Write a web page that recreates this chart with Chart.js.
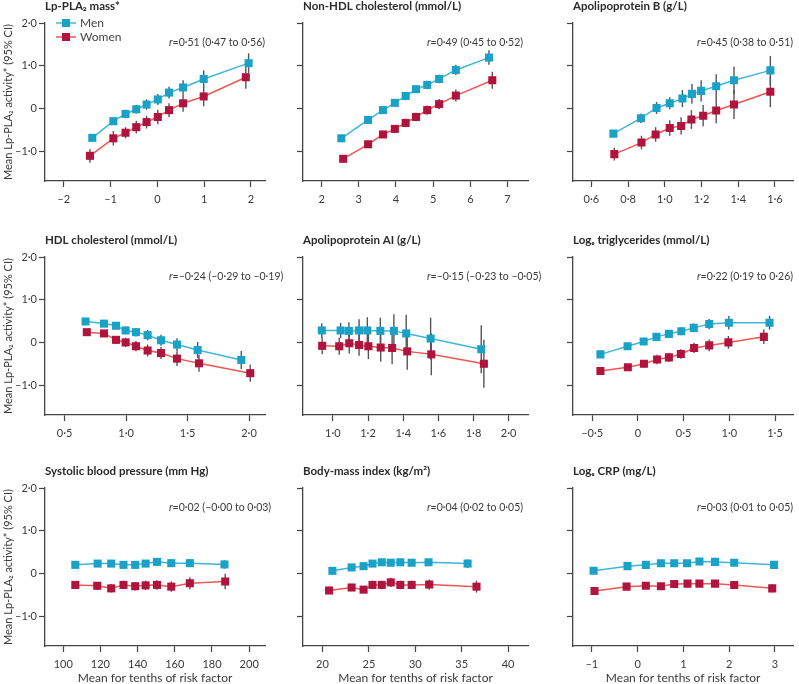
<!DOCTYPE html>
<html>
<head>
<meta charset="utf-8">
<script src="https://cdn.jsdelivr.net/npm/chart.js@4.4.1/dist/chart.umd.min.js"></script>
<style>
  html, body { margin: 0; padding: 0; background: #fff; width: 799px; height: 684px; overflow: hidden; }
  canvas { position: absolute; }
</style>
</head>
<body>
<script>
// Lp-PLA2 mass
const massMenX = [-1.39, -0.94, -0.68, -0.45, -0.23, 0.01, 0.25, 0.55, 0.99, 1.95];
const massMenY = [-0.69, -0.30, -0.13, -0.02, 0.09, 0.21, 0.37, 0.49, 0.69, 1.06];
const massMenCI = [0.08, 0.09, 0.10, 0.10, 0.12, 0.13, 0.14, 0.17, 0.20, 0.23];
const massWomenX = [-1.44, -0.94, -0.68, -0.45, -0.23, 0.01, 0.25, 0.55, 0.99, 1.89];
const massWomenY = [-1.11, -0.70, -0.57, -0.44, -0.32, -0.20, -0.04, 0.12, 0.28, 0.73];
const massWomenCI = [0.16, 0.17, 0.13, 0.15, 0.15, 0.17, 0.16, 0.20, 0.23, 0.27];

// Non-HDL cholesterol
const nonHdlMenX = [2.53, 3.25, 3.65, 3.97, 4.26, 4.54, 4.84, 5.16, 5.61, 6.50];
const nonHdlMenY = [-0.70, -0.27, -0.04, 0.13, 0.29, 0.45, 0.55, 0.69, 0.90, 1.19];
const nonHdlMenCI = [0.06, 0.07, 0.07, 0.08, 0.08, 0.09, 0.10, 0.10, 0.12, 0.17];
const nonHdlWomenX = [2.58, 3.25, 3.65, 3.97, 4.26, 4.54, 4.84, 5.16, 5.61, 6.59];
const nonHdlWomenY = [-1.18, -0.84, -0.61, -0.48, -0.34, -0.20, -0.04, 0.10, 0.30, 0.66];
const nonHdlWomenCI = [0.07, 0.08, 0.08, 0.09, 0.10, 0.10, 0.11, 0.12, 0.14, 0.20];

// Apolipoprotein B
const apoBMenX = [0.72, 0.87, 0.955, 1.027, 1.096, 1.148, 1.198, 1.28, 1.377, 1.575];
const apoBMenY = [-0.59, -0.23, 0.01, 0.12, 0.23, 0.34, 0.41, 0.52, 0.66, 0.89];
const apoBMenCI = [0.06, 0.11, 0.14, 0.14, 0.20, 0.23, 0.25, 0.28, 0.32, 0.34];
const apoBWomenX = [0.725, 0.873, 0.95, 1.027, 1.089, 1.145, 1.209, 1.28, 1.377, 1.575];
const apoBWomenY = [-1.07, -0.80, -0.61, -0.46, -0.41, -0.26, -0.17, -0.05, 0.09, 0.39];
const apoBWomenCI = [0.15, 0.16, 0.17, 0.18, 0.20, 0.22, 0.25, 0.30, 0.34, 0.36];

// HDL cholesterol
const hdlMenX = [0.67, 0.82, 0.918, 0.996, 1.08, 1.175, 1.284, 1.414, 1.582, 1.937];
const hdlMenY = [0.49, 0.44, 0.39, 0.28, 0.24, 0.17, 0.05, -0.05, -0.18, -0.41];
const hdlMenCI = [0.06, 0.07, 0.08, 0.09, 0.10, 0.12, 0.13, 0.15, 0.19, 0.21];
const hdlWomenX = [0.68, 0.82, 0.918, 0.996, 1.08, 1.175, 1.284, 1.414, 1.593, 2.01];
const hdlWomenY = [0.24, 0.21, 0.06, 0.00, -0.09, -0.19, -0.25, -0.38, -0.49, -0.72];
const hdlWomenCI = [0.07, 0.08, 0.09, 0.11, 0.12, 0.14, 0.14, 0.17, 0.20, 0.20];

// Apolipoprotein AI
const apoAMenX = [0.937, 1.044, 1.091, 1.149, 1.196, 1.27, 1.347, 1.417, 1.556, 1.844];
const apoAMenY = [0.28, 0.28, 0.27, 0.28, 0.28, 0.27, 0.27, 0.21, 0.09, -0.16];
const apoAMenCI = [0.17, 0.18, 0.20, 0.26, 0.31, 0.31, 0.39, 0.44, 0.49, 0.56];
const apoAWomenX = [0.939, 1.036, 1.093, 1.149, 1.202, 1.272, 1.337, 1.423, 1.56, 1.859];
const apoAWomenY = [-0.08, -0.09, -0.02, -0.06, -0.09, -0.12, -0.13, -0.21, -0.28, -0.50];
const apoAWomenCI = [0.20, 0.20, 0.24, 0.25, 0.30, 0.33, 0.38, 0.43, 0.49, 0.56];

// Log triglycerides
const tgMenX = [-0.41, -0.113, 0.063, 0.203, 0.339, 0.475, 0.611, 0.78, 0.995, 1.44];
const tgMenY = [-0.28, -0.09, 0.02, 0.13, 0.20, 0.26, 0.34, 0.43, 0.46, 0.46];
const tgMenCI = [0.05, 0.06, 0.06, 0.07, 0.08, 0.09, 0.10, 0.12, 0.16, 0.16];
const tgWomenX = [-0.41, -0.11, 0.066, 0.21, 0.339, 0.47, 0.615, 0.78, 0.99, 1.378];
const tgWomenY = [-0.67, -0.58, -0.50, -0.40, -0.35, -0.27, -0.13, -0.07, 0.00, 0.13];
const tgWomenCI = [0.06, 0.07, 0.08, 0.11, 0.11, 0.11, 0.12, 0.14, 0.15, 0.17];

// Systolic blood pressure
const sbpMenX = [106.5, 118.5, 125.8, 132.4, 138.7, 144.3, 150.4, 158.1, 168.1, 186.7];
const sbpMenY = [0.20, 0.23, 0.23, 0.20, 0.20, 0.23, 0.27, 0.24, 0.24, 0.21];
const sbpMenCI = [0.07, 0.07, 0.07, 0.07, 0.07, 0.07, 0.08, 0.08, 0.09, 0.10];
const sbpWomenX = [106.5, 118.3, 125.8, 132.4, 138.7, 144.3, 150.4, 158.1, 168.1, 187.1];
const sbpWomenY = [-0.27, -0.29, -0.35, -0.27, -0.30, -0.28, -0.27, -0.31, -0.23, -0.19];
const sbpWomenCI = [0.09, 0.09, 0.10, 0.10, 0.10, 0.11, 0.11, 0.12, 0.14, 0.18];

// Body-mass index
const bmiMenX = [21.07, 23.14, 24.43, 25.39, 26.39, 27.36, 28.39, 29.61, 31.43, 35.64];
const bmiMenY = [0.06, 0.14, 0.17, 0.23, 0.26, 0.25, 0.26, 0.25, 0.26, 0.23];
const bmiMenCI = [0.07, 0.06, 0.06, 0.06, 0.06, 0.07, 0.07, 0.08, 0.08, 0.10];
const bmiWomenX = [20.71, 23.14, 24.43, 25.39, 26.39, 27.36, 28.39, 29.61, 31.5, 36.6];
const bmiWomenY = [-0.40, -0.33, -0.38, -0.27, -0.27, -0.21, -0.27, -0.27, -0.26, -0.31];
const bmiWomenCI = [0.09, 0.08, 0.08, 0.10, 0.10, 0.11, 0.10, 0.10, 0.12, 0.14];

// Log CRP
const crpMenX = [-0.96, -0.22, 0.18, 0.51, 0.80, 1.08, 1.35, 1.69, 2.11, 2.98];
const crpMenY = [0.06, 0.17, 0.20, 0.24, 0.24, 0.24, 0.28, 0.27, 0.25, 0.20];
const crpMenCI = [0.06, 0.06, 0.06, 0.06, 0.06, 0.06, 0.06, 0.06, 0.07, 0.08];
const crpWomenX = [-0.94, -0.24, 0.18, 0.51, 0.80, 1.09, 1.35, 1.69, 2.11, 2.94];
const crpWomenY = [-0.41, -0.31, -0.29, -0.30, -0.25, -0.24, -0.24, -0.24, -0.27, -0.35];
const crpWomenCI = [0.07, 0.07, 0.07, 0.07, 0.07, 0.08, 0.07, 0.08, 0.08, 0.09];

const panelTitles = [
  "Lp-PLA\u2082 mass*", "Non-HDL cholesterol (mmol/L)", "Apolipoprotein B (g/L)",
  "HDL cholesterol (mmol/L)", "Apolipoprotein AI (g/L)", "Log\u2091 triglycerides (mmol/L)",
  "Systolic blood pressure (mm Hg)", "Body-mass index (kg/m\u00b2)", "Log\u2091 CRP (mg/L)"
];
const rLabels = [
  "=0·51 (0·47 to 0·56)", "=0·49 (0·45 to 0·52)", "=0·45 (0·38 to 0·51)",
  "=–0·24 (–0·29 to –0·19)", "=–0·15 (–0·23 to –0·05)", "=0·22 (0·19 to 0·26)",
  "=0·02 (–0·00 to 0·03)", "=0·04 (0·02 to 0·05)", "=0·03 (0·01 to 0·05)"
];
const xTicks = [
  [-2, -1, 0, 1, 2], [2, 3, 4, 5, 6, 7], [0.6, 0.8, 1.0, 1.2, 1.4, 1.6],
  [0.5, 1.0, 1.5, 2.0], [1.0, 1.2, 1.4, 1.6, 1.8, 2.0], [-0.5, 0, 0.5, 1.0, 1.5],
  [100, 120, 140, 160, 180, 200], [20, 25, 30, 35, 40], [-1, 0, 1, 2, 3]
];
const xDecimals = [0, 0, 1, 1, 1, 1, 0, 0, 0];
const xRanges = [
  [-2.4, 2.3], [1.5, 7.55], [0.5, 1.7],
  [0.34, 2.13], [0.83, 2.11], [-0.71, 1.7],
  [90.2, 208.5], [17.9, 42.15], [-1.41, 3.4]
];
const yTicks = [-1, 0, 1, 2];
const yTitle = "Mean Lp-PLA\u2082 activity* (95% CI)";
const xTitle = "Mean for tenths of risk factor";

const menSeries = [
  [massMenX, massMenY, massMenCI], [nonHdlMenX, nonHdlMenY, nonHdlMenCI], [apoBMenX, apoBMenY, apoBMenCI],
  [hdlMenX, hdlMenY, hdlMenCI], [apoAMenX, apoAMenY, apoAMenCI], [tgMenX, tgMenY, tgMenCI],
  [sbpMenX, sbpMenY, sbpMenCI], [bmiMenX, bmiMenY, bmiMenCI], [crpMenX, crpMenY, crpMenCI]
];
const womenSeries = [
  [massWomenX, massWomenY, massWomenCI], [nonHdlWomenX, nonHdlWomenY, nonHdlWomenCI], [apoBWomenX, apoBWomenY, apoBWomenCI],
  [hdlWomenX, hdlWomenY, hdlWomenCI], [apoAWomenX, apoAWomenY, apoAWomenCI], [tgWomenX, tgWomenY, tgWomenCI],
  [sbpWomenX, sbpWomenY, sbpWomenCI], [bmiWomenX, bmiWomenY, bmiWomenCI], [crpWomenX, crpWomenY, crpWomenCI]
];

const MEN_MARK = "#1aa2c6";
const MEN_LINE = "#3fb6d8";
const WOMEN_MARK = "#b1133f";
const WOMEN_LINE = "#ee5752";
const AXIS = "#444";
const TEXT = "#3a3a3a";
const FONT = "Lato, 'Noto Sans', 'DejaVu Sans', sans-serif";

Chart.defaults.font.family = FONT;
Chart.defaults.color = TEXT;

const colLeft = [45, 303, 573];
const colWidth = [220, 225, 224];
const colPadRight = [28, 28, 2];
const rowTop = [23, 257, 488];
const PLOT_H = 158;
const Y_W = 45;

const fmt = (v, dec) => {
  if (Math.abs(v) < 1e-9) return "0";
  return (v < 0 ? "–" : "") + Math.abs(v).toFixed(dec).replace(".", "·");
};

const errorBars = {
  id: "errorBars",
  beforeDatasetsDraw(chart) {
    const ctx = chart.ctx;
    const xs = chart.scales.x;
    const ys = chart.scales.y;
    ctx.save();
    ctx.strokeStyle = "#555";
    ctx.lineWidth = 1.4;
    chart.data.datasets.forEach((ds) => {
      ds.data.forEach((p, k) => {
        const px = xs.getPixelForValue(p.x);
        ctx.beginPath();
        ctx.moveTo(px, ys.getPixelForValue(p.y - ds.ci[k]));
        ctx.lineTo(px, ys.getPixelForValue(p.y + ds.ci[k]));
        ctx.stroke();
      });
    });
    ctx.restore();
  },
};

const panelText = {
  id: "panelText",
  afterDraw(chart, args, opts) {
    const ctx = chart.ctx;
    const area = chart.chartArea;
    ctx.save();
    ctx.textBaseline = "middle";
    ctx.textAlign = "left";
    ctx.fillStyle = "#2a2a2a";
    ctx.font = "bold 11.5px " + FONT;
    ctx.fillText(opts.title, area.left, area.top - 17);

    const ry = area.top + 19.5;
    const rx = area.left + 124;
    ctx.fillStyle = TEXT;
    ctx.font = "italic 10.5px " + FONT;
    ctx.fillText("r", rx, ry);
    const rw = ctx.measureText("r").width;
    ctx.font = "10.5px " + FONT;
    ctx.fillText(opts.rLabel, rx + rw, ry);

    if (opts.legend) {
      const items = [["Men", MEN_LINE, MEN_MARK], ["Women", WOMEN_LINE, WOMEN_MARK]];
      items.forEach((it, k) => {
        const y = area.top + k * 14;
        const x0 = area.left + 11;
        ctx.strokeStyle = it[1];
        ctx.lineWidth = 1.5;
        ctx.beginPath();
        ctx.moveTo(x0, y);
        ctx.lineTo(x0 + 20, y);
        ctx.stroke();
        ctx.fillStyle = it[2];
        ctx.fillRect(x0 + 6, y - 4, 8, 8);
        ctx.fillStyle = "#444";
        ctx.font = "12px " + FONT;
        ctx.fillText(it[0], x0 + 24, y);
      });
    }
    ctx.restore();
  },
};

for (let i = 0; i < 9; i++) {
  const col = i % 3;
  const row = Math.floor(i / 3);
  const padTop = row === 0 ? 23 : 24;
  const xH = row === 2 ? 40 : 30;
  const canvas = document.createElement("canvas");
  const w = Y_W + colWidth[col] + colPadRight[col];
  const h = padTop + PLOT_H + xH;
  canvas.width = w;
  canvas.height = h;
  canvas.style.left = (colLeft[col] - Y_W) + "px";
  canvas.style.top = (rowTop[row] - padTop) + "px";
  canvas.style.width = w + "px";
  canvas.style.height = h + "px";
  document.body.appendChild(canvas);

  const makeSet = (s, line, mark) => ({
    data: s[0].map((x, k) => ({ x, y: s[1][k] })),
    ci: s[2],
    showLine: true,
    borderColor: line,
    borderWidth: 1.5,
    backgroundColor: mark,
    pointStyle: "rect",
    pointRadius: 5.7,
    pointBackgroundColor: mark,
    pointBorderColor: mark,
    pointBorderWidth: 0,
    tension: 0,
  });

  new Chart(canvas.getContext("2d"), {
    type: "scatter",
    data: {
      datasets: [
        makeSet(menSeries[i], MEN_LINE, MEN_MARK),
        makeSet(womenSeries[i], WOMEN_LINE, WOMEN_MARK),
      ],
    },
    options: {
      responsive: false,
      animation: false,
      devicePixelRatio: 1,
      layout: { padding: { top: padTop, right: colPadRight[col], left: 0, bottom: 0 } },
      plugins: {
        legend: { display: false },
        tooltip: { enabled: false },
        panelText: { title: panelTitles[i], rLabel: rLabels[i], legend: i === 0 },
      },
      scales: {
        x: {
          type: "linear",
          min: xRanges[i][0],
          max: xRanges[i][1],
          afterBuildTicks: (s) => { s.ticks = xTicks[i].map((v) => ({ value: v })); },
          afterFit: (s) => { s.height = xH; },
          ticks: {
            autoSkip: false,
            maxRotation: 0,
            padding: 6,
            color: TEXT,
            font: { size: 11 },
            callback: (v) => fmt(v, xDecimals[i]),
          },
          grid: { display: true, drawOnChartArea: false, drawTicks: true, tickLength: 6, tickColor: AXIS, tickWidth: 1.2 },
          border: { display: true, color: AXIS, width: 1.3 },
          title: {
            display: row === 2,
            text: xTitle,
            color: TEXT,
            font: { size: 12 },
            padding: { top: 0, bottom: 1 },
          },
        },
        y: {
          type: "linear",
          min: -1.7,
          max: 2.0,
          afterBuildTicks: (s) => { s.ticks = yTicks.map((v) => ({ value: v })); },
          afterFit: (s) => { s.width = Y_W; },
          ticks: {
            display: col === 0,
            padding: 2,
            color: TEXT,
            font: { size: 11 },
            callback: (v) => fmt(v, 1),
          },
          grid: { display: true, drawOnChartArea: false, drawTicks: true, tickLength: 6, tickColor: AXIS, tickWidth: 1.2 },
          border: { display: true, color: AXIS, width: 1.3 },
          title: {
            display: col === 0,
            text: yTitle,
            color: TEXT,
            font: { size: 11 },
            padding: { top: 2, bottom: 0 },
          },
        },
      },
    },
    plugins: [errorBars, panelText],
  });
}
</script>
</body>
</html>
